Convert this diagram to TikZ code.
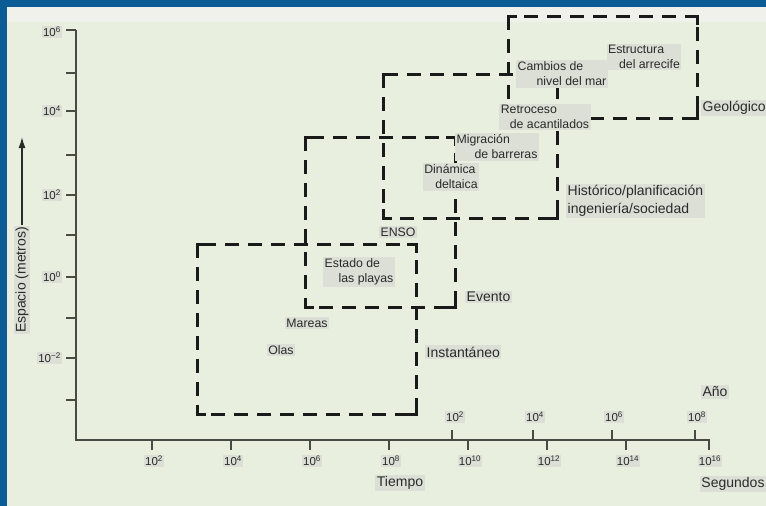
\documentclass[tikz,border=0pt]{standalone}
\usepackage{fontspec}
\setmainfont{Liberation Sans}
\usetikzlibrary{arrows.meta}
\definecolor{bgc}{HTML}{E9EFDF}
\definecolor{bandc}{HTML}{F0F1EA}
\definecolor{framec}{HTML}{0B5C94}
\definecolor{lbg}{HTML}{DCDFD6}
\definecolor{axc}{HTML}{4A4A44}
\definecolor{boxc}{HTML}{1A1A1A}
\definecolor{txtc}{HTML}{2A2A2A}
\begin{document}
\begin{tikzpicture}[x=1pt,y=-1pt,
  inlab/.style={font=\fontsize{12.3}{15}\selectfont, text=txtc, fill=lbg, inner sep=1.5pt, align=left},
  catlab/.style={font=\fontsize{14}{18}\selectfont, text=txtc, fill=lbg, inner sep=1.5pt, align=left},
  ticklab/.style={font=\fontsize{11.5}{13}\selectfont, text=txtc, fill=lbg, inner sep=1pt},
  dbox/.style={draw=boxc, line width=3pt, dash pattern=on 14pt off 9pt},
  cornerl/.style={draw=boxc, line width=3pt},
  axisl/.style={draw=axc, line width=2.2pt},
  tickl/.style={draw=axc, line width=1.6pt}]
\useasboundingbox (0,0) rectangle (766,506);
% background and frame
\fill[bgc] (0,0) rectangle (766,506);
\fill[bandc] (7,7) rectangle (766,22);
\fill[framec] (0,0) rectangle (766,7);
\fill[framec] (0,0) rectangle (7,506);

% dashed boxes
\foreach \xa/\ya/\xb/\yb in {197/244/416/414, 305/137/455/307, 383/74/557/218, 508/16/697/118}{
  \draw[dbox] (\xa,\ya) rectangle (\xb,\yb);
  \draw[cornerl] (\xa,\ya+9) -- (\xa,\ya) -- (\xa+9,\ya);
  \draw[cornerl] (\xb-9,\ya) -- (\xb,\ya) -- (\xb,\ya+9);
  \draw[cornerl] (\xa,\yb-9) -- (\xa,\yb) -- (\xa+9,\yb);
  \draw[cornerl] (\xb-9,\yb) -- (\xb,\yb) -- (\xb,\yb-9);
}

% axes
\draw[axisl] (76,30) -- (76,440) -- (710,440);
\foreach \y in {30,73,111,155,195,235,277,318,358,400}{
  \draw[tickl] (66,\y) -- (76,\y);
}
\foreach \x in {152,231,310,389,468,547,626,709}{
  \draw[tickl] (\x,440) -- (\x,450);
}
\foreach \x in {452,533,612,695}{
  \draw[tickl] (\x,440) -- (\x,430);
}

% y tick labels
\node[ticklab, anchor=east] (y6) at (62,32) {10\textsuperscript{6}};
\node[ticklab, anchor=east] (y4) at (62,111) {10\textsuperscript{4}};
\node[ticklab, anchor=east] (y2) at (62,195) {10\textsuperscript{2}};
\node[ticklab, anchor=east] (y0) at (62,277) {10\textsuperscript{0}};
\node[ticklab, anchor=east] (ym2) at (62,358) {10\textsuperscript{−2}};

% x tick labels (seconds)
\node[ticklab] (s2) at (154,461) {10\textsuperscript{2}};
\node[ticklab] (s4) at (233,461) {10\textsuperscript{4}};
\node[ticklab] (s6) at (312,461) {10\textsuperscript{6}};
\node[ticklab] (s8) at (391,461) {10\textsuperscript{8}};
\node[ticklab] (s10) at (470,461) {10\textsuperscript{10}};
\node[ticklab] (s12) at (549,461) {10\textsuperscript{12}};
\node[ticklab] (s14) at (628,461) {10\textsuperscript{14}};
\node[ticklab] (s16) at (710,461) {10\textsuperscript{16}};

% x tick labels (years)
\node[ticklab] (a2) at (455,417) {10\textsuperscript{2}};
\node[ticklab] (a4) at (535,417) {10\textsuperscript{4}};
\node[ticklab] (a6) at (614,417) {10\textsuperscript{6}};
\node[ticklab] (a8) at (697,417) {10\textsuperscript{8}};

% axis titles
\node[catlab] (ano) at (715,392) {Año};
\node[catlab] (tiempo) at (400,483) {Tiempo};
\node[catlab] (segundos) at (733,484) {Segundos};
\node[catlab, rotate=90] (espacio) at (22,280) {Espacio (metros)};
\coordinate (ytip) at (22,137);
\draw[draw=txtc, line width=1.4pt, -{Latex[length=11pt,width=7pt]}] (espacio.east) -- (ytip);

% inner labels
\node[inlab] (olas) at (281,350) {Olas};
\node[inlab] (mareas) at (307,323) {Mareas};
\node[inlab] (enso) at (398,232) {ENSO};
\node[inlab] (estado) at (359,272) {Estado de\\\hspace*{14pt}las playas};
\node[inlab] (dinamica) at (451,177) {Dinámica\\\hspace*{11pt}deltaica};
\node[inlab] (migracion) at (497,147) {Migración\\\hspace*{18pt}de barreras};
\node[inlab] (retroceso) at (545,117) {Retroceso\\\hspace*{9pt}de acantilados};
\node[inlab] (cambios) at (562,74) {Cambios de\\\hspace*{19pt}nivel del mar};
\node[inlab] (estructura) at (644,57) {Estructura\\\hspace*{11pt}del arrecife};

% category labels
\node[catlab, anchor=west] (geologico) at (701,108) {Geológico};
\node[catlab, anchor=west] (historico) at (566,201) {Histórico/planificación\\ingeniería/sociedad};
\node[catlab, anchor=west] (evento) at (465,297) {Evento};
\node[catlab, anchor=west] (instantaneo) at (425,352) {Instantáneo};
\end{tikzpicture}
\end{document}
